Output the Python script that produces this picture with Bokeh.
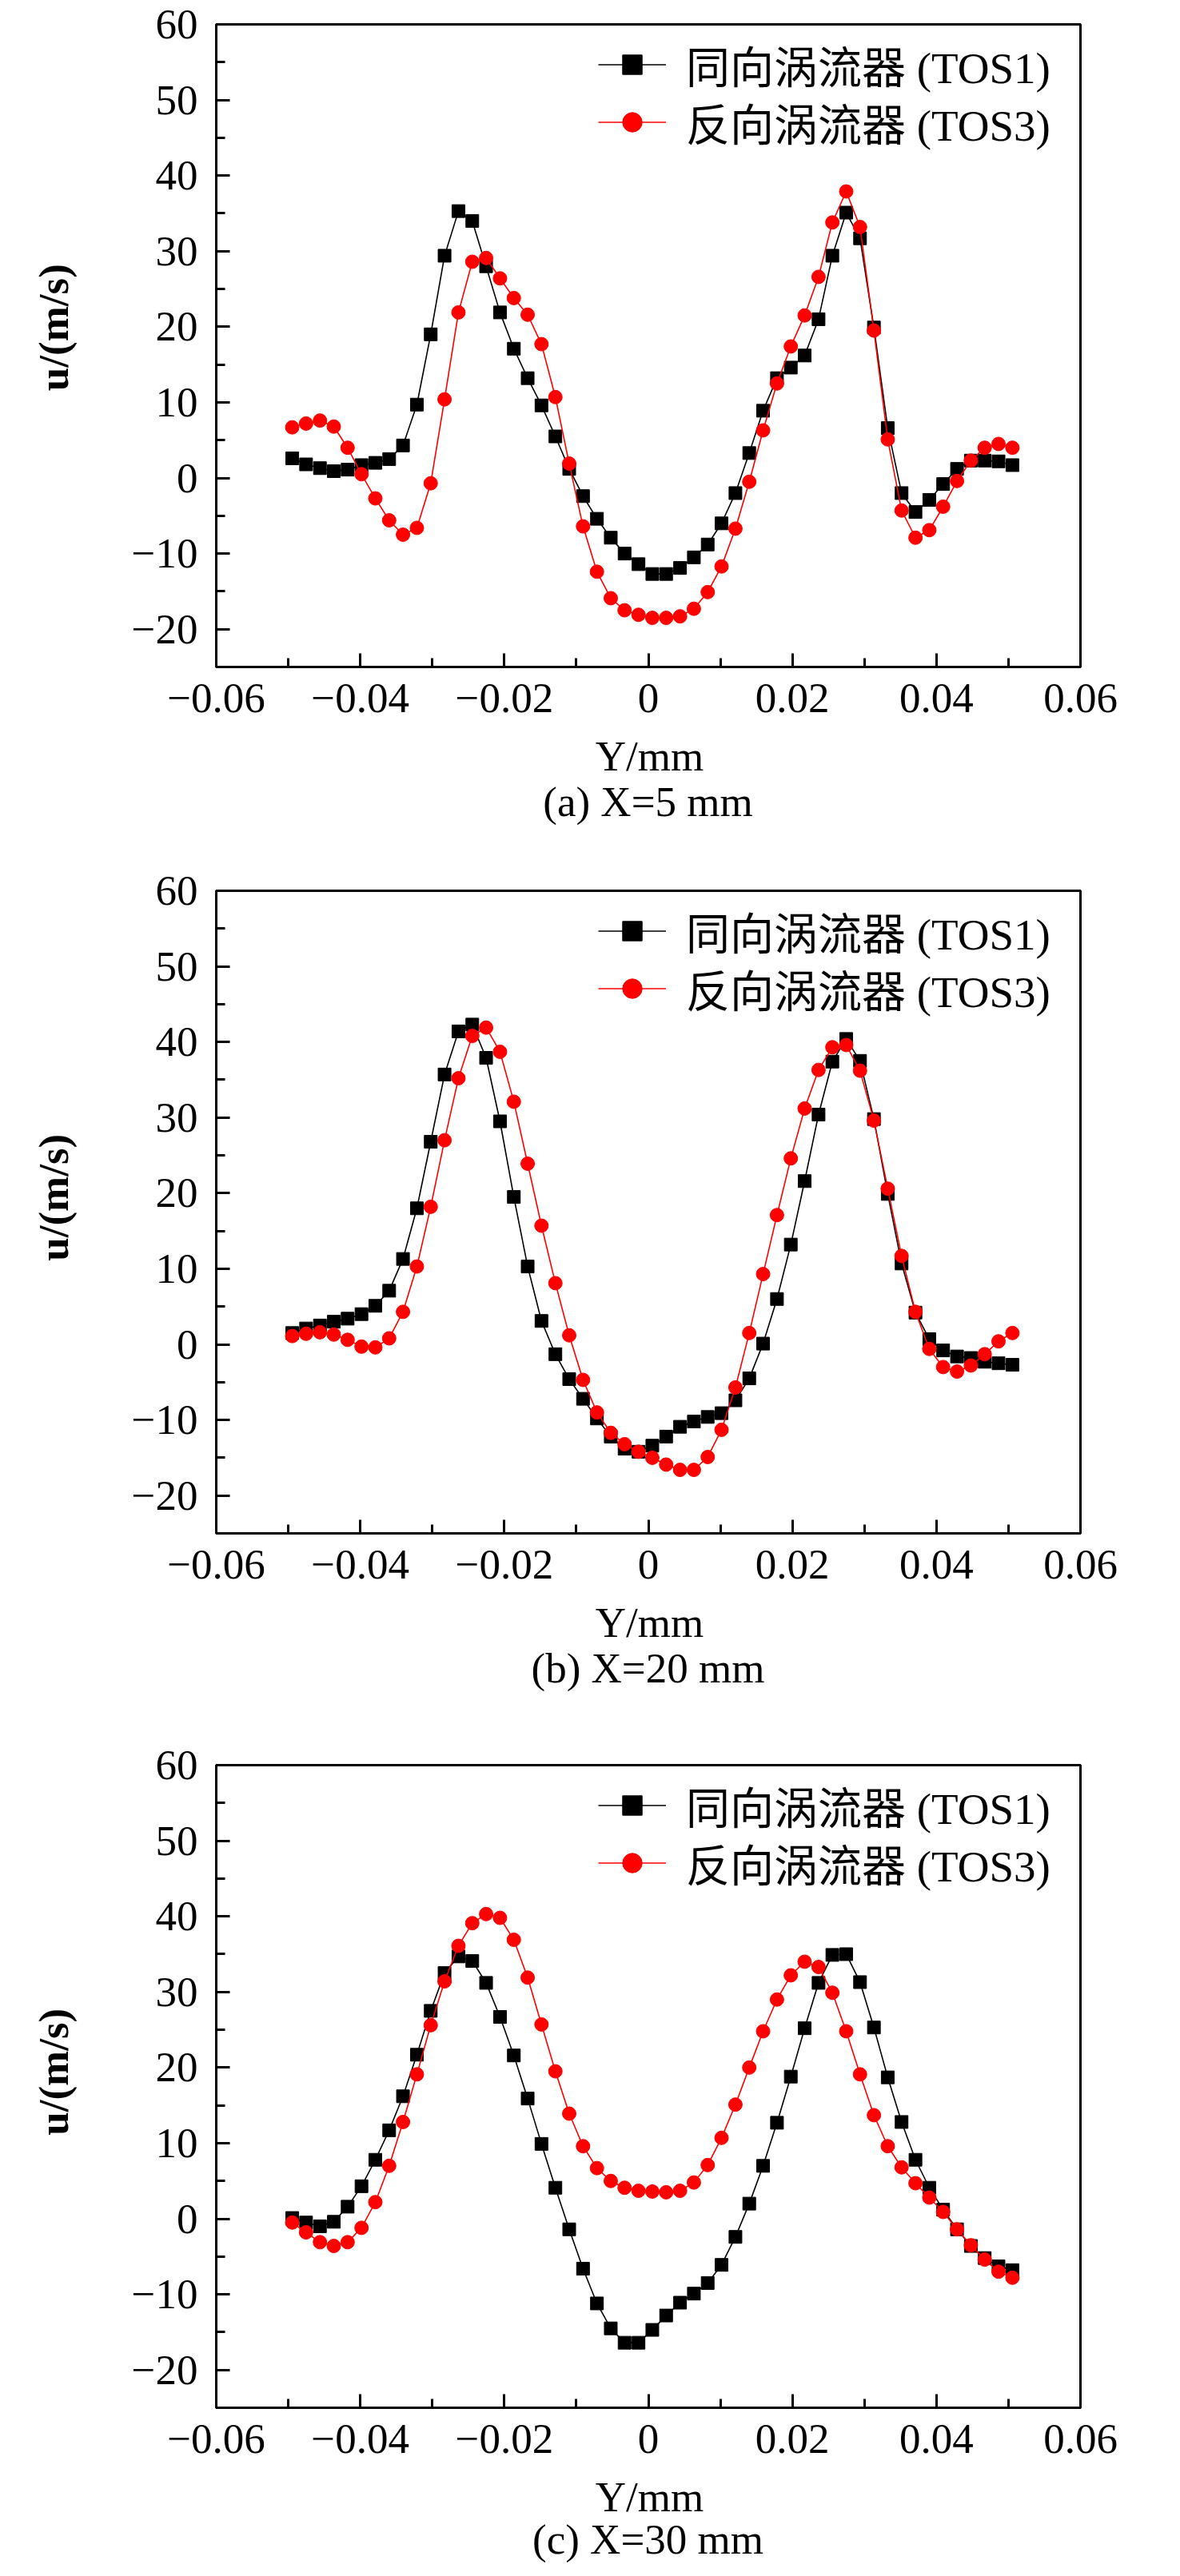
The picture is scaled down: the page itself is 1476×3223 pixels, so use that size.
import math
from bokeh.plotting import figure
from bokeh.models import (Range1d, FixedTicker, CustomJSTickFormatter, Legend, LegendItem, Label)
from bokeh.layouts import column, row
from bokeh.embed import file_html
from bokeh.resources import INLINE

# ---------------- data ----------------
y_pos = [-0.04945, -0.04753, -0.04560, -0.04368, -0.04176, -0.03983, -0.03791, -0.03599,
         -0.03407, -0.03214, -0.03022, -0.02830, -0.02637, -0.02445, -0.02253, -0.02060,
         -0.01868, -0.01676, -0.01484, -0.01291, -0.01099, -0.00907, -0.00714, -0.00522,
         -0.00330, -0.00137, 0.00055, 0.00247, 0.00440, 0.00632, 0.00824, 0.01016,
         0.01209, 0.01401, 0.01593, 0.01786, 0.01978, 0.02170, 0.02363, 0.02555,
         0.02747, 0.02939, 0.03132, 0.03324, 0.03516, 0.03709, 0.03901, 0.04093,
         0.04286, 0.04478, 0.04670, 0.04862, 0.05055]

# (a) X=5 mm
tos1_x5 = [2.6, 1.8, 1.3, 0.9, 1.1, 1.7, 2.0, 2.5, 4.3, 9.7, 19.0, 29.4, 35.3, 34.0, 28.0,
           21.9, 17.1, 13.2, 9.6, 5.5, 1.2, -2.4, -5.4, -7.9, -10.0, -11.4, -12.7, -12.7,
           -11.9, -10.5, -8.8, -6.0, -2.0, 3.3, 8.9, 13.2, 14.6, 16.2, 21.0, 29.4, 35.1,
           31.7, 19.9, 6.6, -2.0, -4.5, -2.9, -0.8, 1.2, 2.3, 2.3, 2.2, 1.7]
tos3_x5 = [6.7, 7.2, 7.6, 6.8, 4.0, 0.5, -2.7, -5.6, -7.5, -6.6, -0.7, 10.4, 21.9, 28.6,
           29.1, 26.4, 23.8, 21.6, 17.7, 10.7, 1.9, -6.4, -12.4, -15.9, -17.5, -18.1, -18.5,
           -18.5, -18.3, -17.3, -15.1, -11.7, -6.7, -0.5, 6.3, 12.5, 17.4, 21.5, 26.6, 33.8,
           37.9, 33.2, 19.5, 5.1, -4.3, -7.9, -6.9, -3.8, -0.4, 2.3, 4.0, 4.5, 4.0]

# (b) X=20 mm
tos1_x20 = [1.5, 2.1, 2.5, 3.0, 3.4, 4.0, 5.1, 7.1, 11.3, 18.0, 26.8, 35.7, 41.4, 42.3, 37.9,
            29.5, 19.5, 10.3, 3.1, -1.3, -4.6, -7.2, -9.8, -12.2, -13.8, -14.2, -13.4, -12.2,
            -10.9, -10.2, -9.6, -9.1, -7.4, -4.5, 0.1, 6.0, 13.2, 21.6, 30.4, 37.4, 40.4,
            37.5, 29.8, 19.9, 10.7, 4.2, 0.7, -0.8, -1.6, -1.8, -2.3, -2.5, -2.7]
tos3_x20 = [1.1, 1.4, 1.6, 1.3, 0.6, -0.3, -0.4, 0.8, 4.3, 10.3, 18.2, 27.0, 35.2, 40.8,
            41.9, 38.7, 32.1, 23.9, 15.7, 8.1, 1.2, -4.7, -9.0, -11.7, -13.2, -14.2, -15.0,
            -15.9, -16.6, -16.6, -14.9, -11.3, -5.7, 1.5, 9.3, 17.1, 24.6, 31.2, 36.3, 39.3,
            39.6, 36.2, 29.6, 20.6, 11.7, 4.3, -0.6, -3.0, -3.6, -2.8, -1.3, 0.4, 1.5]

# (c) X=30 mm
tos1_x30 = [0.1, -0.5, -1.0, -0.4, 1.6, 4.3, 7.8, 11.7, 16.2, 21.7, 27.5, 32.5, 34.7, 34.1,
            31.2, 26.7, 21.6, 15.9, 9.9, 4.1, -1.4, -6.6, -11.2, -14.5, -16.4, -16.4, -14.7,
            -12.8, -11.1, -9.9, -8.5, -6.1, -2.4, 2.0, 7.0, 12.7, 18.8, 25.2, 31.2, 34.9,
            35.0, 31.3, 25.3, 18.7, 12.8, 7.8, 4.1, 1.2, -1.4, -3.6, -5.2, -6.3, -6.8]
tos3_x30 = [-0.5, -1.8, -3.1, -3.6, -3.1, -1.2, 2.2, 7.0, 12.8, 19.1, 25.6, 31.4, 36.1, 39.1,
            40.3, 39.8, 36.9, 31.9, 25.7, 19.5, 13.9, 9.6, 6.7, 5.0, 4.1, 3.7, 3.6, 3.5, 3.7,
            4.8, 7.1, 10.7, 15.1, 20.0, 24.8, 29.0, 32.2, 34.0, 33.3, 29.9, 24.8, 19.1, 13.7,
            9.6, 6.8, 4.7, 2.8, 0.9, -1.4, -3.5, -5.4, -7.0, -7.8]

series_labels = ["同向涡流器 (TOS1)", "反向涡流器 (TOS3)"]
captions = ["(a) X=5 mm", "(b) X=20 mm", "(c) X=30 mm"]
x_title = "Y/mm"
y_title = "u/(m/s)"

x_major = [-0.06, -0.04, -0.02, 0.0, 0.02, 0.04, 0.06]
x_minor = [-0.05, -0.03, -0.01, 0.01, 0.03, 0.05]
y_major = [-20, -10, 0, 10, 20, 30, 40, 50, 60]
y_minor = [-25, -15, -5, 5, 15, 25, 35, 45, 55]

SERIF = "Liberation Serif"
LEG_FONT = "Liberation Serif, Noto Sans CJK SC"
FS = "53px"

TOTAL_W = 1460
LEFT_W = 120          # strip holding the rotated y-axis title
FRAME_H = 804
BOTTOM_B = 82         # room for x tick labels


def blank_fig(w, h):
    f = figure(width=w, height=h, x_range=Range1d(0, w), y_range=Range1d(0, h),
               output_backend="svg", toolbar_location=None,
               x_axis_location=None, y_axis_location=None,
               min_border=0, min_border_left=0, min_border_right=0,
               min_border_top=0, min_border_bottom=0)
    f.outline_line_color = None
    f.background_fill_color = "white"
    f.border_fill_color = "white"
    for g in f.grid:
        g.visible = False
    return f


def txt(f, x, y, s, style="normal", angle=0.0):
    f.add_layout(Label(x=x, y=y, text=s, text_font=SERIF, text_font_size=FS,
                       text_font_style=style, text_align="center", text_baseline="middle",
                       angle=angle, text_color="black"))


def legend_for(item, vy):
    return Legend(items=[item], location=(478, vy), orientation="vertical",
                  border_line_color=None, background_fill_alpha=0.0,
                  padding=0, margin=0, spacing=0,
                  glyph_width=85, glyph_height=61, label_height=61,
                  label_standoff=25, label_text_font=LEG_FONT,
                  label_text_font_size="55px", label_text_color="black")


def make_main(tos1, tos3, top_b):
    h = top_b + FRAME_H + BOTTOM_B
    p = figure(width=TOTAL_W - LEFT_W, height=h,
               x_range=Range1d(-0.06, 0.06), y_range=Range1d(-25, 60),
               output_backend="svg", toolbar_location=None,
               min_border_left=270 - LEFT_W, min_border_right=109,
               min_border_top=top_b, min_border_bottom=BOTTOM_B)
    p.xgrid.visible = False
    p.ygrid.visible = False
    p.outline_line_color = "black"
    p.outline_line_width = 3
    p.outline_line_alpha = 1.0
    p.background_fill_color = "white"
    p.border_fill_color = "white"

    p.xaxis.ticker = FixedTicker(ticks=x_major, minor_ticks=x_minor)
    p.yaxis.ticker = FixedTicker(ticks=y_major, minor_ticks=y_minor)
    p.xaxis.formatter = CustomJSTickFormatter(code="""
        if (Math.abs(tick) < 1e-9) return "0";
        return (tick < 0 ? "\\u2212" : "") + Math.abs(tick).toFixed(2);
    """)
    p.yaxis.formatter = CustomJSTickFormatter(code="""
        const v = Math.round(tick);
        if (v == 0) return "0";
        return (v < 0 ? "\\u2212" : "") + Math.abs(v).toString();
    """)
    for ax in (p.xaxis[0], p.yaxis[0]):
        ax.axis_line_width = 3
        ax.axis_line_color = "black"
        ax.major_tick_line_width = 3
        ax.minor_tick_line_width = 3
        ax.major_tick_line_color = "black"
        ax.minor_tick_line_color = "black"
        ax.major_tick_in = 17
        ax.major_tick_out = 0
        ax.minor_tick_in = 11
        ax.minor_tick_out = 0
        ax.major_label_text_font = SERIF
        ax.major_label_text_font_size = FS
        ax.major_label_text_color = "black"
    p.xaxis.major_label_standoff = 21
    p.yaxis.major_label_standoff = 23

    bl = p.line(y_pos, tos1, line_color="black", line_width=1.6)
    bs = p.scatter(y_pos, tos1, marker="square", size=16, fill_color="black", line_color="black")
    rl = p.line(y_pos, tos3, line_color="red", line_width=1.6)
    rs = p.scatter(y_pos, tos3, marker="circle", size=17, fill_color="red", line_color="red")

    p.add_layout(legend_for(LegendItem(label=series_labels[0], renderers=[bl, bs]), 714))
    p.add_layout(legend_for(LegendItem(label=series_labels[1], renderers=[rl, rs]), 642))
    return p, h


def make_left(h):
    f = blank_fig(LEFT_W, h)
    yc = BOTTOM_B + FRAME_H / 2  # frame centre, measured from the bottom
    txt(f, 66, yc, y_title, style="bold", angle=math.pi / 2)
    return f


def make_caption(h, k, cap_mid):
    f = blank_fig(TOTAL_W, h)
    txt(f, 812, h - (111 - BOTTOM_B), x_title)
    txt(f, 810, h - cap_mid, captions[k])
    return f


datasets = [(tos1_x5, tos3_x5), (tos1_x20, tos3_x20), (tos1_x30, tos3_x30)]
tops = [30, 40, 40]
cap_heights = [158, 168, 112]
cap_mids = [86, 86, 82]

blocks = []
for k in range(3):
    m, h = make_main(datasets[k][0], datasets[k][1], tops[k])
    blocks.append(row(make_left(h), m, spacing=0))
    blocks.append(make_caption(cap_heights[k], k, cap_mids[k]))

layout = column(*blocks, spacing=0)
open("out.html", "w").write(file_html(layout, INLINE, "chart"))
